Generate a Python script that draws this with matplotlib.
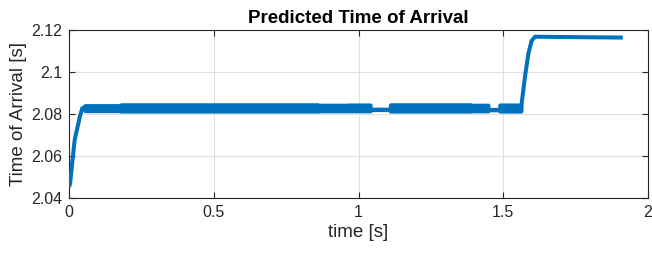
import matplotlib
matplotlib.use("Agg")
import matplotlib.pyplot as plt

# initial climb of the predicted arrival time
rise_t = [0.0, 0.004, 0.012, 0.02, 0.03, 0.038, 0.047]
rise_v = [2.0452, 2.047, 2.058, 2.068, 2.074, 2.079, 2.0832]

# envelope of the noisy band (min / max of the oscillation)
band_t = [0.047, 0.055, 0.055, 0.18, 0.18, 0.857, 0.857, 0.97, 0.97, 1.04,
          1.04, 1.11, 1.11, 1.385, 1.385, 1.447, 1.447, 1.488, 1.488, 1.561]
band_hi = [2.0832, 2.0834, 2.0840, 2.0840, 2.0844, 2.0844, 2.0842, 2.0842, 2.0843, 2.0843,
           2.0823, 2.0823, 2.0844, 2.0844, 2.0842, 2.0842, 2.0822, 2.0822, 2.0843, 2.0843]
band_lo = [2.0828, 2.0826, 2.0816, 2.0816, 2.0814, 2.0814, 2.0815, 2.0815, 2.0815, 2.0815,
           2.0821, 2.0821, 2.0814, 2.0814, 2.0815, 2.0815, 2.0820, 2.0820, 2.0814, 2.0814]

# second jump and final plateau
jump_t = [1.561, 1.568, 1.575, 1.587, 1.598, 1.61, 1.75, 1.913]
jump_v = [2.0822, 2.090, 2.0978, 2.1089, 2.1149, 2.1168, 2.1166, 2.1164]

xticks = [0, 0.5, 1, 1.5, 2]
xtick_labels = ["0", "0.5", "1", "1.5", "2"]
yticks = [2.04, 2.06, 2.08, 2.1, 2.12]
ytick_labels = ["2.04", "2.06", "2.08", "2.1", "2.12"]

blue = "#0072BD"
dark = "#262626"

plt.rcParams['font.family'] = ['Liberation Sans', 'DejaVu Sans']

fig = plt.figure(figsize=(6.52, 2.6), dpi=100)
ax = fig.add_axes([0.1058, 0.2385, 0.8881, 0.6461])

lw = 2.9
ax.plot(rise_t, rise_v, color=blue, lw=lw, solid_capstyle='butt', zorder=3)
ax.fill_between(band_t, band_lo, band_hi, color=blue, edgecolor=blue, lw=lw,
                joinstyle='round', zorder=3)
ax.plot(jump_t, jump_v, color=blue, lw=lw, solid_capstyle='butt', zorder=3)

ax.set_xlim(0, 2)
ax.set_ylim(2.04, 2.12)
ax.set_xticks(xticks, xtick_labels)
ax.set_yticks(yticks, ytick_labels)
ax.grid(True, color="#dfdfdf", lw=0.8)
ax.set_axisbelow(True)
ax.tick_params(direction='in', length=4, width=0.8, top=True, right=True,
               labelsize=11.5, colors=dark, labelcolor=dark, pad=5)
for s in ax.spines.values():
    s.set_color(dark)
    s.set_linewidth(0.8)

ax.set_xlabel("time [s]", fontsize=13.5, color=dark, labelpad=3)
ax.set_ylabel("Time of Arrival [s]", fontsize=13.5, color=dark, labelpad=3)
ax.set_title("Predicted Time of Arrival", fontsize=13.5, fontweight='bold', pad=5)

fig.savefig("out.png", dpi=100)
